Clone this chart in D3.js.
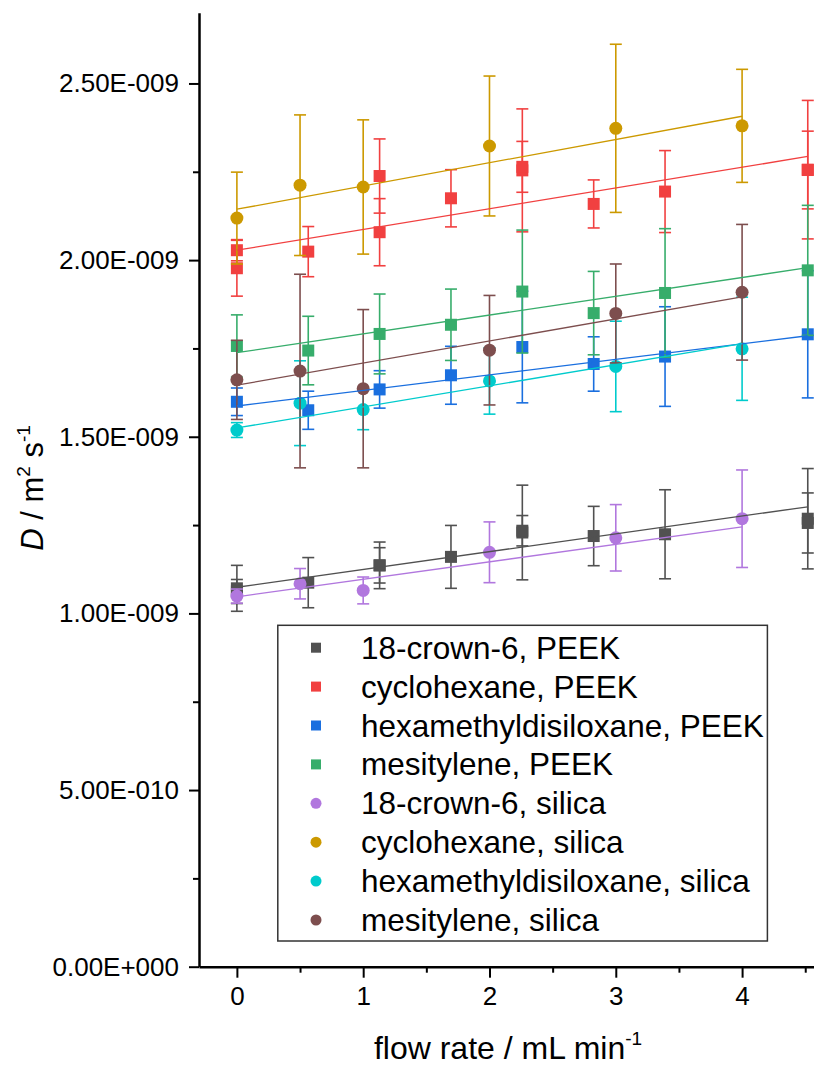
<!DOCTYPE html>
<html>
<head>
<meta charset="utf-8">
<script src="https://cdn.jsdelivr.net/npm/d3@7"></script>
<style>
  body { margin: 0; background: #fff; }
  svg { display: block; font-family: "Liberation Sans", Arial, sans-serif; }
</style>
</head>
<body>
<div id="chart"></div>
<script>
// D in units of 1e-9 m^2 s^-1, each point is [flow rate, D, error]
const crownPeek = [[0, 1.071, 0.065], [0, 1.062, 0.034], [0.565, 1.087, 0.071], [1.13, 1.136, 0.066], [1.13, 1.136, 0.05],
  [1.695, 1.160, 0.089], [2.26, 1.229, 0.134], [2.26, 1.234, 0.043], [2.825, 1.219, 0.084], [3.39, 1.224, 0.126],
  [4.52, 1.268, 0.142], [4.52, 1.256, 0.085]];
const cyclohexanePeek = [[0, 2.028, 0.03], [0, 1.977, 0.079], [0.565, 2.024, 0.071], [1.13, 2.238, 0.105], [1.13, 2.079, 0.095],
  [1.695, 2.175, 0.081], [2.26, 2.254, 0.174], [2.26, 2.264, 0.072], [2.825, 2.159, 0.068], [3.39, 2.194, 0.116],
  [4.52, 2.256, 0.196], [4.52, 2.255, 0.11]];
const hmdsoPeek = [[0, 1.599, 0.039], [0.565, 1.575, 0.054], [1.13, 1.634, 0.053], [1.695, 1.674, 0.082],
  [2.26, 1.754, 0.158], [2.825, 1.706, 0.077], [3.39, 1.727, 0.141], [4.52, 1.790, 0.18]];
const mesitylenePeek = [[0, 1.757, 0.088], [0.565, 1.744, 0.097], [1.13, 1.791, 0.113], [1.695, 1.817, 0.101],
  [2.26, 1.911, 0.174], [2.825, 1.850, 0.118], [3.39, 1.907, 0.182], [4.52, 1.971, 0.184]];
const crownSilica = [[0, 1.049, 0.02], [0.5, 1.084, 0.043], [1, 1.065, 0.038], [2, 1.173, 0.086], [3, 1.214, 0.094], [4, 1.268, 0.138]];
const cyclohexaneSilica = [[0, 2.119, 0.13], [0.5, 2.212, 0.199], [1, 2.207, 0.19], [2, 2.323, 0.198], [3, 2.373, 0.238], [4, 2.380, 0.16]];
const hmdsoSilica = [[0, 1.519, 0.021], [0.5, 1.595, 0.12], [1, 1.577, 0.057], [2, 1.658, 0.094], [3, 1.699, 0.128], [4, 1.749, 0.146]];
const mesityleneSilica = [[0, 1.661, 0.112], [0.5, 1.686, 0.274], [1, 1.636, 0.224], [2, 1.745, 0.155], [3, 1.849, 0.14], [4, 1.909, 0.192]];

const seriesNames = ["18-crown-6, PEEK", "cyclohexane, PEEK", "hexamethyldisiloxane, PEEK", "mesitylene, PEEK",
  "18-crown-6, silica", "cyclohexane, silica", "hexamethyldisiloxane, silica", "mesitylene, silica"];
const seriesColors = ["#515151", "#F14040", "#1A6FDF", "#37AD6B", "#B177DE", "#CC9900", "#00CBCC", "#7D4E4E"];
const seriesSymbols = ["square", "square", "square", "square", "circle", "circle", "circle", "circle"];
const seriesData = [crownPeek, cyclohexanePeek, hmdsoPeek, mesitylenePeek,
  crownSilica, cyclohexaneSilica, hmdsoSilica, mesityleneSilica];

// linear fits, D = intercept + slope * flow
const fitIntercept = [1.074, 2.028, 1.587, 1.738, 1.047, 2.144, 1.525, 1.646];
const fitSlope = [0.0504, 0.0587, 0.044, 0.0532, 0.0495, 0.0658, 0.0596, 0.0625];

const yTicks = [0, 0.5, 1, 1.5, 2, 2.5];
const yMinorTicks = [0.25, 0.75, 1.25, 1.75, 2.25];
const xTicks = [0, 1, 2, 3, 4];
const xMinorTicks = [0.5, 1.5, 2.5, 3.5, 4.5];

const width = 814, height = 1066;
const font = "Liberation Sans, Arial, sans-serif";

const svg = d3.select("#chart").append("svg")
  .attr("width", width)
  .attr("height", height);

const x = d3.scaleLinear().domain([-0.3, 4.7]).range([199, 830.5]);
const y = d3.scaleLinear().domain([0, 2.7]).range([966.7, 12.8]);

// Origin style labels: 2.50E-009
function fmtE(v) {
  const s = (v * 1e-9).toExponential(2);
  const [m, e] = s.split("e");
  const n = +e;
  return m + "E" + (n < 0 ? "-" : "+") + String(Math.abs(n)).padStart(3, "0");
}

// axes
const yAxisG = svg.append("g").attr("transform", `translate(${x.range()[0]},0)`)
  .call(d3.axisLeft(y).tickValues(yTicks).tickSize(10).tickSizeOuter(0).tickPadding(10).tickFormat(fmtE));
svg.append("g").attr("transform", `translate(${x.range()[0]},0)`)
  .call(d3.axisLeft(y).tickValues(yMinorTicks).tickSize(6).tickFormat(""))
  .call(g => g.select(".domain").remove());

const xAxisG = svg.append("g").attr("transform", `translate(0,${y(0)})`)
  .call(d3.axisBottom(x).tickValues(xTicks).tickSize(11).tickSizeOuter(0).tickPadding(9).tickFormat(d3.format("d")));
svg.append("g").attr("transform", `translate(0,${y(0)})`)
  .call(d3.axisBottom(x).tickValues(xMinorTicks).tickSize(6).tickFormat(""))
  .call(g => g.select(".domain").remove());

svg.selectAll(".domain").attr("stroke", "#000").attr("stroke-width", 2.5);
svg.selectAll(".tick line").attr("stroke", "#000").attr("stroke-width", 2);
yAxisG.attr("font-size", 26).attr("font-family", font);
yAxisG.selectAll(".tick text").attr("fill", "#000");
xAxisG.attr("font-size", 26).attr("font-family", font);
xAxisG.selectAll(".tick text").attr("fill", "#000");

// axis titles
const xTitle = svg.append("text")
  .attr("x", 508).attr("y", 1059)
  .attr("text-anchor", "middle")
  .attr("font-size", 32);
xTitle.append("tspan").text("flow rate / mL min");
xTitle.append("tspan").attr("font-size", 19).attr("dy", -14).text("-1");

const yTitle = svg.append("text")
  .attr("transform", "translate(43,488) rotate(-90)")
  .attr("text-anchor", "middle")
  .attr("font-size", 31);
yTitle.append("tspan").attr("font-style", "italic").text("D");
yTitle.append("tspan").text(" / m");
yTitle.append("tspan").attr("font-size", 19).attr("dy", -13).text("2");
yTitle.append("tspan").attr("dy", 13).text(" s");
yTitle.append("tspan").attr("font-size", 19).attr("dy", -13).text("-1");

// error bars and markers
const cap = 6;
seriesData.forEach((data, i) => {
  const color = seriesColors[i];
  const g = svg.append("g").attr("class", "series");

  const eb = g.selectAll(".err").data(data).join("g").attr("class", "err")
    .attr("stroke", color).attr("stroke-width", 1.6);
  eb.append("line")
    .attr("x1", d => x(d[0])).attr("x2", d => x(d[0]))
    .attr("y1", d => y(d[1] - d[2])).attr("y2", d => y(d[1] + d[2]));
  eb.append("line")
    .attr("x1", d => x(d[0]) - cap).attr("x2", d => x(d[0]) + cap)
    .attr("y1", d => y(d[1] + d[2])).attr("y2", d => y(d[1] + d[2]));
  eb.append("line")
    .attr("x1", d => x(d[0]) - cap).attr("x2", d => x(d[0]) + cap)
    .attr("y1", d => y(d[1] - d[2])).attr("y2", d => y(d[1] - d[2]));

  if (seriesSymbols[i] === "square") {
    g.selectAll(".mark").data(data).join("rect").attr("class", "mark")
      .attr("x", d => x(d[0]) - 6).attr("y", d => y(d[1]) - 6)
      .attr("width", 12).attr("height", 12)
      .attr("fill", color);
  } else {
    g.selectAll(".mark").data(data).join("circle").attr("class", "mark")
      .attr("cx", d => x(d[0])).attr("cy", d => y(d[1]))
      .attr("r", 6.5)
      .attr("fill", color);
  }
});

// fit lines over the data range
seriesData.forEach((data, i) => {
  const [x0, x1] = d3.extent(data, d => d[0]);
  svg.append("line")
    .attr("x1", x(x0)).attr("y1", y(fitIntercept[i] + fitSlope[i] * x0))
    .attr("x2", x(x1)).attr("y2", y(fitIntercept[i] + fitSlope[i] * x1))
    .attr("stroke", seriesColors[i])
    .attr("stroke-width", 1.3);
});

// legend
const legend = svg.append("g");
legend.append("rect")
  .attr("x", 277.8).attr("y", 625.3)
  .attr("width", 489.6).attr("height", 315.7)
  .attr("fill", "#fff")
  .attr("stroke", "#333").attr("stroke-width", 1.5);

const rowY = i => 647.7 + i * 38.9;
seriesNames.forEach((name, i) => {
  if (seriesSymbols[i] === "square") {
    legend.append("rect")
      .attr("x", 316 - 5).attr("y", rowY(i) - 5)
      .attr("width", 10).attr("height", 10)
      .attr("fill", seriesColors[i]);
  } else {
    legend.append("circle")
      .attr("cx", 316).attr("cy", rowY(i)).attr("r", 5.5)
      .attr("fill", seriesColors[i]);
  }
  legend.append("text")
    .attr("x", 361).attr("y", rowY(i))
    .attr("dy", "0.35em")
    .attr("font-size", 31.5)
    .attr("fill", "#000")
    .text(name);
});
</script>
</body>
</html>
